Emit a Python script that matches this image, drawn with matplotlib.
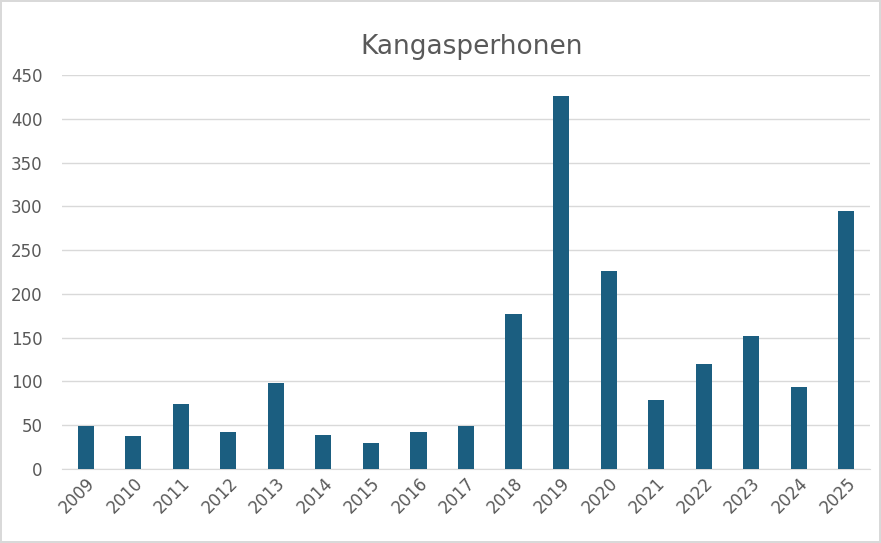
import matplotlib.pyplot as plt
import numpy as np

years = [str(y) for y in range(2009, 2026)]
counts = [49, 38, 74, 42, 98, 39, 30, 42, 49, 177, 426, 226, 79, 120, 152, 94, 295]

fig = plt.figure(figsize=(8.81, 5.43), dpi=100)
fig.patch.set_edgecolor('#d9d9d9')
fig.patch.set_linewidth(1.5)
ax = fig.add_axes([62/881, 1 - 469/543, (870-62)/881, (469-75)/543])

x = np.arange(len(years))
ax.bar(x, counts, width=0.34, color='#1B5E80', zorder=3)
ax.set_xlim(-0.5, len(years) - 0.5)
ax.set_ylim(0, 450)
ax.set_yticks(range(0, 451, 50))
ax.grid(axis='y', color='#d9d9d9', linewidth=1, zorder=0)
ax.set_xticks(x)
ax.set_xticklabels(years, rotation=45, ha='right', rotation_mode='anchor')
ax.tick_params(axis='both', length=0, labelsize=12, colors='#595959')
ax.tick_params(axis='y', pad=14)
for s in ['top', 'right', 'left']:
    ax.spines[s].set_visible(False)
ax.spines['bottom'].set_color('#d9d9d9')
fig.text(0.535, 1 - 47/543, 'Kangasperhonen', ha='center', va='center',
         fontsize=19, color='#595959')

fig.savefig('out.png', dpi=100, edgecolor=fig.get_edgecolor())
